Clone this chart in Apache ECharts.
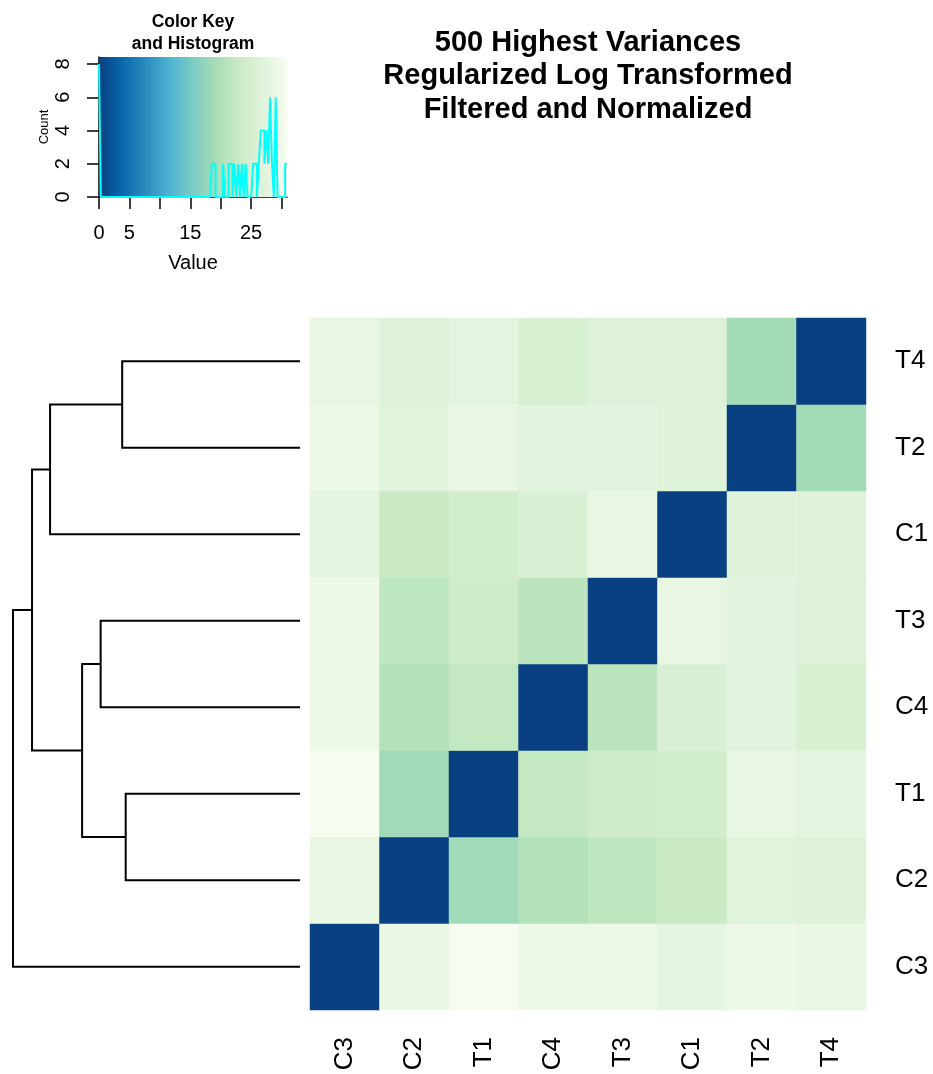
<!DOCTYPE html>
<html>
<head>
<meta charset="utf-8">
<script src="https://cdn.jsdelivr.net/npm/echarts@6/dist/echarts.min.js"></script>
<style>
  html, body { margin: 0; padding: 0; background: #ffffff; }
  #chart { width: 933px; height: 1074px; }
</style>
</head>
<body>
<div id="chart"></div>
<script>
// Sample order along columns (left to right) and rows (bottom to top)
const samples = ['C3', 'C2', 'T1', 'C4', 'T3', 'C1', 'T2', 'T4'];

// Sample-to-sample distances, one array per sample, in the order of `samples`
const distC3 = [0.0, 28.6, 30.9, 29.3, 29.3, 27.9, 29.3, 28.3];
const distC2 = [28.6, 0.0, 18.6, 20.5, 21.7, 23.0, 27.1, 26.5];
const distT1 = [30.9, 18.6, 0.0, 22.3, 23.6, 24.2, 28.3, 27.7];
const distC4 = [29.3, 20.5, 22.3, 0.0, 21.5, 25.8, 27.6, 25.5];
const distT3 = [29.3, 21.7, 23.6, 21.5, 0.0, 28.3, 27.4, 26.7];
const distC1 = [27.9, 23.0, 24.2, 25.8, 28.3, 0.0, 26.9, 26.7];
const distT2 = [29.3, 27.1, 28.3, 27.6, 27.4, 26.9, 0.0, 18.9];
const distT4 = [28.3, 26.5, 27.7, 25.5, 26.7, 26.7, 18.9, 0.0];
const distRows = [distC3, distC2, distT1, distC4, distT3, distC1, distT2, distT4];

// Row dendrogram in hclust form: negative = leaf (-(index+1) into samples),
// positive = earlier merge step (1-based)
const mergeLeft   = [-3, -8, -5, 3, 2, 5, 6];
const mergeRight  = [-2, -7, -4, 1, -6, 4, -1];
const mergeHeight = [34.8, 35.5, 39.8, 43.5, 49.9, 53.5, 57.3];

// Reversed GnBu palette
const palette = ['#084081', '#0868ac', '#2b8cbe', '#4eb3d3', '#7bccc4',
                 '#a8ddb5', '#ccebc5', '#e0f3db', '#f7fcf0'];

// Colour key axes
const keyTicks = [0, 5, 10, 15, 20, 25, 30];
const keyTickLabels = [0, 5, 15, 25];
const countTicks = [0, 2, 4, 6, 8];
const nBins = 100;

const FONT = "'Liberation Sans', Arial, Helvetica, sans-serif";

// ---- derived values ----
const allValues = [];
distRows.forEach(r => r.forEach(v => allValues.push(v)));
const vMin = Math.min(...allValues);
const vMax = Math.max(...allValues);

const heatData = [];
for (let r = 0; r < samples.length; r++) {
  for (let c = 0; c < samples.length; c++) {
    heatData.push([c, r, distRows[r][c]]);
  }
}

// histogram of all matrix values (bins (b[i-1], b[i]], lowest included)
const binW = (vMax - vMin) / nBins;
const counts = new Array(nBins).fill(0);
allValues.forEach(v => {
  let b = Math.ceil((v - vMin) / binW - 1e-9) - 1;
  if (b < 0) b = 0;
  if (b > nBins - 1) b = nBins - 1;
  counts[b]++;
});
// step outline: flat across each bin, vertical between bins
const histData = [];
for (let i = 0; i < nBins; i++) {
  histData.push([vMin + i * binW, counts[i]]);
  histData.push([vMin + (i + 1) * binW, counts[i]]);
}
const maxCount = Math.max(...counts);
const countAxisMax = maxCount / 0.95;

// dendrogram node positions
const mergePos = [];
function nodePos(id) { return id < 0 ? (-id - 1) : mergePos[id - 1]; }
function nodeHeight(id) { return id < 0 ? 0 : mergeHeight[id - 1]; }
for (let i = 0; i < mergeLeft.length; i++) {
  mergePos.push((nodePos(mergeLeft[i]) + nodePos(mergeRight[i])) / 2);
}
const rootHeight = Math.max(...mergeHeight);
const dendroData = mergeLeft.map((_, i) => [i]);

const gradientStops = palette.map((c, i) => ({ offset: i / (palette.length - 1), color: c }));

const chart = echarts.init(document.getElementById('chart'), null, { renderer: 'canvas' });

chart.setOption({
  animation: false,
  backgroundColor: '#ffffff',
  textStyle: { fontFamily: FONT },
  grid: [
    { left: 310, top: 318, width: 556, height: 692 },   // heatmap
    { left: 13, top: 318, width: 287, height: 692 },    // row dendrogram
    { left: 99, top: 57, width: 188, height: 140 }      // colour key
  ],
  xAxis: [
    {
      gridIndex: 0, type: 'category', data: samples, position: 'bottom',
      axisLine: { show: false }, axisTick: { show: false }, splitLine: { show: false },
      axisLabel: { rotate: 90, margin: 27, fontSize: 26, color: '#000', fontFamily: FONT }
    },
    {
      gridIndex: 1, type: 'value', min: 0, max: rootHeight, inverse: true, show: false
    },
    {
      gridIndex: 2, type: 'value', min: vMin, max: vMax,
      axisLine: { show: true, onZero: false, lineStyle: { color: '#000', width: 1.5 } },
      axisTick: { show: true, length: 12, lineStyle: { color: '#000', width: 1.5 }, customValues: keyTicks },
      axisLabel: { fontSize: 20, margin: 26, color: '#000', fontFamily: FONT, customValues: keyTickLabels },
      splitLine: { show: false },
      name: 'Value', nameLocation: 'middle', nameGap: 56,
      nameTextStyle: { fontSize: 20, color: '#000', fontFamily: FONT }
    }
  ],
  yAxis: [
    {
      gridIndex: 0, type: 'category', data: samples, position: 'right',
      axisLine: { show: false }, axisTick: { show: false }, splitLine: { show: false },
      axisLabel: { margin: 29, fontSize: 26, color: '#000', fontFamily: FONT }
    },
    {
      gridIndex: 1, type: 'value', min: -0.5, max: samples.length - 0.5, show: false
    },
    {
      gridIndex: 2, type: 'value', min: 0, max: countAxisMax,
      axisLine: { show: true, onZero: false, lineStyle: { color: '#000', width: 1.5 } },
      axisTick: { show: true, length: 12, lineStyle: { color: '#000', width: 1.5 }, customValues: countTicks },
      axisLabel: { rotate: 90, fontSize: 20, margin: 26, color: '#000', fontFamily: FONT, customValues: countTicks },
      splitLine: { show: false },
      name: 'Count', nameLocation: 'middle', nameGap: 48, nameRotate: 90,
      nameTextStyle: { fontSize: 13, color: '#000', fontFamily: FONT }
    }
  ],
  visualMap: {
    show: false, type: 'continuous', seriesIndex: 0,
    min: vMin, max: vMax, inRange: { color: palette }
  },
  series: [
    {
      type: 'heatmap', xAxisIndex: 0, yAxisIndex: 0, data: heatData,
      itemStyle: { borderWidth: 0 }, emphasis: { disabled: true }
    },
    {
      type: 'custom', xAxisIndex: 1, yAxisIndex: 1, data: dendroData, silent: true,
      renderItem: function (params, api) {
        const i = api.value(0);
        const l = mergeLeft[i], r = mergeRight[i], h = mergeHeight[i];
        const pts = [
          api.coord([nodeHeight(l), nodePos(l)]),
          api.coord([h, nodePos(l)]),
          api.coord([h, nodePos(r)]),
          api.coord([nodeHeight(r), nodePos(r)])
        ];
        return {
          type: 'polyline',
          shape: { points: pts },
          style: { stroke: '#000', lineWidth: 2, fill: null }
        };
      }
    },
    {
      type: 'custom', xAxisIndex: 2, yAxisIndex: 2, data: [[vMin, 0]], silent: true, z: 1,
      renderItem: function (params, api) {
        const p0 = api.coord([vMin, 0]);
        const p1 = api.coord([vMax, countAxisMax]);
        return {
          type: 'rect',
          shape: { x: p0[0], y: p1[1], width: p1[0] - p0[0], height: p0[1] - p1[1] },
          style: { fill: new echarts.graphic.LinearGradient(0, 0, 1, 0, gradientStops) }
        };
      }
    },
    {
      type: 'line', xAxisIndex: 2, yAxisIndex: 2, data: histData,
      showSymbol: false, symbol: 'none', silent: true, z: 3, clip: false,
      lineStyle: { color: '#00ffff', width: 2 }
    }
  ],
  graphic: [
    {
      type: 'text', x: 588, y: 26,
      style: {
        text: '500 Highest Variances\nRegularized Log Transformed\nFiltered and Normalized',
        x: 0, y: 0, align: 'center', textAlign: 'center', verticalAlign: 'top', textVerticalAlign: 'top',
        font: 'bold 29px ' + FONT, lineHeight: 33.5, fill: '#000'
      }
    },
    {
      type: 'text', x: 193, y: 11,
      style: {
        text: 'Color Key\nand Histogram',
        x: 0, y: 0, align: 'center', textAlign: 'center', verticalAlign: 'top', textVerticalAlign: 'top',
        font: 'bold 17.5px ' + FONT, lineHeight: 22, fill: '#000'
      }
    }
  ]
});
</script>
</body>
</html>
